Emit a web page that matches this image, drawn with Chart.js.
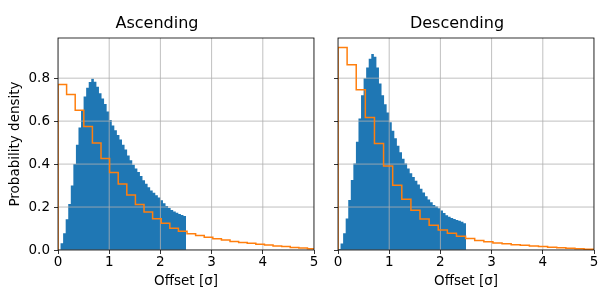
<!DOCTYPE html>
<html>
<head>
<meta charset="utf-8">
<script src="https://cdn.jsdelivr.net/npm/chart.js@4.4.0/dist/chart.umd.min.js"></script>
<style>
  body { margin: 0; background: #fff; }
  #wrap { position: relative; width: 599px; height: 291px; }
  canvas { position: absolute; top: 0; }
</style>
</head>
<body>
<div id="wrap">
  <canvas id="asc" width="320" height="291" style="left:0"></canvas>
  <canvas id="desc" width="279" height="291" style="left:320px"></canvas>
</div>
<script>
// histogram of measured offsets, bins of 0.05 from 0 to 2.5
const histWidth = 0.05;
const ascHist = [0, 0.031, 0.078, 0.143, 0.214, 0.30, 0.40, 0.49, 0.57, 0.65,
  0.715, 0.755, 0.782, 0.797, 0.783, 0.76, 0.73, 0.705, 0.68, 0.645,
  0.605, 0.58, 0.557, 0.535, 0.515, 0.49, 0.468, 0.44, 0.418, 0.397,
  0.38, 0.363, 0.345, 0.325, 0.308, 0.292, 0.277, 0.266, 0.255, 0.244,
  0.232, 0.218, 0.205, 0.195, 0.186, 0.179, 0.174, 0.168, 0.163, 0.158];
const descHist = [0.005, 0.03, 0.078, 0.147, 0.233, 0.326, 0.403, 0.504, 0.612, 0.721,
  0.80, 0.85, 0.89, 0.912, 0.90, 0.85, 0.775, 0.72, 0.678, 0.64,
  0.595, 0.555, 0.52, 0.485, 0.455, 0.425, 0.403, 0.38, 0.357, 0.34,
  0.322, 0.305, 0.285, 0.268, 0.25, 0.235, 0.222, 0.21, 0.202, 0.194,
  0.184, 0.172, 0.162, 0.155, 0.149, 0.144, 0.14, 0.136, 0.131, 0.125];

// reference distribution (orange steps), 30 bins each
const ascModelWidth = 0.168;
const ascModel = [0.771, 0.724, 0.651, 0.575, 0.498, 0.426, 0.361, 0.307, 0.256, 0.212,
  0.177, 0.146, 0.124, 0.101, 0.087, 0.076, 0.067, 0.059, 0.052, 0.046,
  0.040, 0.035, 0.031, 0.027, 0.023, 0.019, 0.016, 0.012, 0.009, 0.006];
const descModelWidth = 0.178;
const descModel = [0.943, 0.862, 0.746, 0.617, 0.496, 0.391, 0.302, 0.236, 0.185, 0.144,
  0.115, 0.093, 0.078, 0.064, 0.053, 0.044, 0.038, 0.033, 0.029, 0.025,
  0.022, 0.019, 0.016, 0.013, 0.010, 0.008, 0.006, 0.004, 0.002, 0.001];

const xTicks = [0, 1, 2, 3, 4, 5];
const yTicks = [0, 0.2, 0.4, 0.6, 0.8];
const yMax = 0.987;

Chart.defaults.font.family = 'DejaVu Sans';
Chart.defaults.font.size = 13.5;
Chart.defaults.color = '#000';

// left edges of bins -> points for a 'before' stepped line
function stepPoints(values, width) {
  const pts = [{x: 0, y: 0}];
  values.forEach((v, i) => pts.push({x: i * width, y: v}));
  pts.push({x: values.length * width, y: 0});
  return pts;
}

// matplotlib puts the grid above the patches but below the lines
const gridAbovePatches = {
  id: 'gridAbovePatches',
  afterDatasetDraw(chart, args) {
    if (args.index !== 1) return;
    const {ctx, chartArea: a, scales: {x, y}} = chart;
    ctx.save();
    ctx.beginPath();
    ctx.rect(a.left, a.top, a.right - a.left, a.bottom - a.top);
    ctx.clip();
    ctx.strokeStyle = '#b0b0b0';
    ctx.lineWidth = 0.8;
    ctx.beginPath();
    xTicks.forEach(v => {
      const px = x.getPixelForValue(v);
      ctx.moveTo(px, a.top); ctx.lineTo(px, a.bottom);
    });
    yTicks.forEach(v => {
      const py = y.getPixelForValue(v);
      ctx.moveTo(a.left, py); ctx.lineTo(a.right, py);
    });
    ctx.stroke();
    ctx.restore();
  }
};

const frame = {
  id: 'frame',
  afterDraw(chart) {
    const {ctx, chartArea: a} = chart;
    ctx.save();
    ctx.strokeStyle = '#000';
    ctx.lineWidth = 0.8;
    ctx.strokeRect(a.left, a.top, a.right - a.left, a.bottom - a.top);
    ctx.restore();
  }
};

function makeChart(id, title, hist, model, modelWidth, showYLabels) {
  return new Chart(document.getElementById(id), {
    type: 'line',
    data: {
      datasets: [{
        label: 'model',
        data: stepPoints(model, modelWidth),
        stepped: 'before',
        borderColor: '#ff7f0e',
        borderWidth: 1.5,
        pointRadius: 0,
        fill: false,
        order: 1
      }, {
        label: 'hist',
        data: stepPoints(hist, histWidth),
        stepped: 'before',
        borderColor: 'rgba(0,0,0,0)',
        borderWidth: 0,
        backgroundColor: '#1f77b4',
        pointRadius: 0,
        fill: 'origin',
        order: 2
      }]
    },
    options: {
      responsive: false,
      animation: false,
      layout: {padding: {left: 0, right: showYLabels ? 6 : 5, top: 0, bottom: 0}},
      plugins: {
        legend: {display: false},
        tooltip: {enabled: false},
        title: {
          display: true,
          text: title,
          font: {size: 16, weight: 'normal'},
          padding: {top: 14, bottom: 4.8}
        }
      },
      scales: {
        x: {
          type: 'linear',
          min: 0,
          max: 5,
          afterBuildTicks: s => { s.ticks = xTicks.map(v => ({value: v})); },
          afterFit: s => { s.height = 41; },
          ticks: {callback: v => String(v), padding: 0, maxRotation: 0},
          grid: {drawOnChartArea: false, tickLength: 4, tickColor: '#000', tickWidth: 0.8},
          border: {display: false},
          title: {display: true, text: 'Offset [σ]', padding: {top: 0, bottom: 1}}
        },
        y: {
          type: 'linear',
          min: 0,
          max: yMax,
          afterBuildTicks: s => { s.ticks = yTicks.map(v => ({value: v})); },
          afterFit: s => { s.width = showYLabels ? 58 : 18; },
          ticks: {callback: v => showYLabels ? v.toFixed(1) : '', padding: 4},
          grid: {drawOnChartArea: false, tickLength: 4, tickColor: '#000', tickWidth: 0.8},
          border: {display: false},
          title: {display: showYLabels, text: 'Probability density', padding: 7}
        }
      }
    },
    plugins: [gridAbovePatches, frame]
  });
}

makeChart('asc', 'Ascending', ascHist, ascModel, ascModelWidth, true);
makeChart('desc', 'Descending', descHist, descModel, descModelWidth, false);
</script>
</body>
</html>
